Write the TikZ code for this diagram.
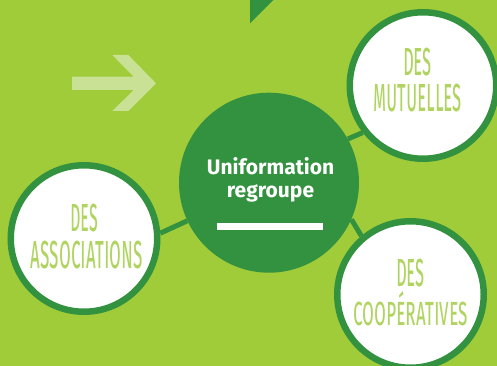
\documentclass[tikz,border=0pt]{standalone}
\usepackage{fontspec}
\usepackage{graphicx}
\newfontfamily\hubfont{Fira Sans}
\newfontfamily\tallfont[Letters={SmallCaps,UppercaseSmallCaps}]{Fira Sans}
\definecolor{bggreen}{HTML}{A0CC3A}
\definecolor{dkgreen}{HTML}{33923F}
\definecolor{ltgreen}{HTML}{B0D460}
\definecolor{arrowgreen}{HTML}{C9E195}
\newcommand\tallword[2]{\resizebox{#1}{27pt}{\tallfont\vphantom{D}\smash{#2}}}
\tikzset{
  outercircle/.style={circle, draw=dkgreen, line width=6.5pt, fill=white, minimum size=146.5pt, inner sep=0pt},
  hub/.style={circle, fill=dkgreen, minimum size=180pt, inner sep=0pt},
  link/.style={draw=dkgreen, line width=5pt},
  tall/.style={text=ltgreen, inner sep=0pt, anchor=base},
  hubtext/.style={text=white, inner sep=0pt, anchor=base, font=\hubfont\bfseries\fontsize{21}{23}\selectfont},
}
\begin{document}
\begin{tikzpicture}[x=1pt,y=-1pt]
\useasboundingbox (0,0) rectangle (497,366);
\fill[bggreen] (0,0) rectangle (497,366);
% top triangle
\fill[dkgreen] (250,0) -- (250,23.3) -- (273.5,0) -- cycle;
% light arrow
\fill[arrowgreen] (72,76.7) -- (133.7,76.7) -- (112.3,55) -- (128.3,55) -- (156,83.3)
  -- (128.3,111) -- (112.3,111) -- (133.7,90) -- (72,90) -- cycle;
% hub
\node[hub] (hub) at (269,182.7) {};
% outer circles
\node[outercircle] (mut) at (423,85.5) {};
\node[outercircle] (asso) at (84,238.5) {};
\node[outercircle] (coop) at (410.5,294.5) {};
% connectors
\draw[link] (hub.205.4) -- (asso.4.9);
\draw[link] (hub.29.7) -- (mut.218);
\draw[link] (hub.-24.5) -- (coop.130);
% hub text
\node[hubtext] (t1) at (270.5,174) {Uniformation};
\node[hubtext] (t2) at (270.5,197) {regroupe};
\fill[white] (217,223) rectangle (323,230);
% circle texts
\node[tall] (m1) at (417.5,76) {\tallword{29pt}{Des}};
\node[tall] (m2) at (417.5,112) {\tallword{89pt}{mutuelles}};
\node[tall] (a1) at (84,231) {\tallword{28pt}{Des}};
\node[tall] (a2) at (87,268) {\tallword{112pt}{associations}};
\node[tall] (c1) at (410.5,286) {\tallword{29pt}{Des}};
\node[tall] (c2) at (410.5,325) {\resizebox{115pt}{34pt}{\tallfont coopératives}};
\end{tikzpicture}
\end{document}
